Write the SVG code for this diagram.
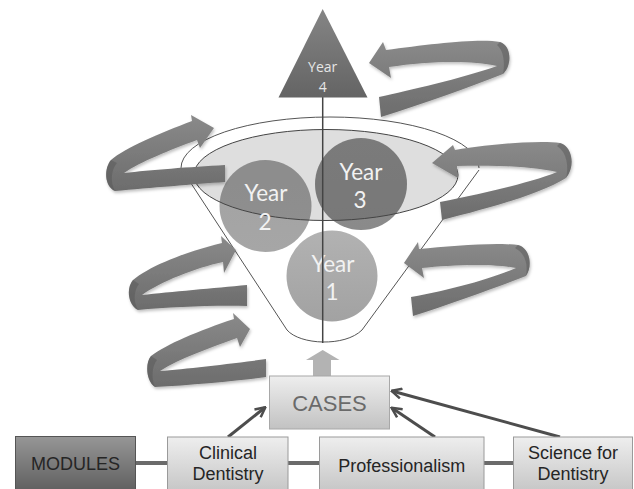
<svg xmlns="http://www.w3.org/2000/svg" width="634" height="489" viewBox="0 0 634 489">
<defs>
<style>
.rib{fill:url(#gRib);filter:url(#sh)}
.turn{fill:#555;opacity:0.45}
.ctext{font-family:Lato,"Open Sans",sans-serif;font-size:22.5px;fill:#f2f2f2;text-anchor:middle}
.btext{font-family:"Liberation Sans",Arial,sans-serif;font-size:18px;fill:#252525;text-anchor:middle}
.box{fill:url(#gBox);stroke:#9a9a9a;stroke-width:1}
.fun{fill:none;stroke:#555;stroke-width:1}
.link{stroke:#6b6b6b;stroke-width:4}
.arr{stroke:#4d4d4d;stroke-width:3;fill:none;marker-end:url(#mk)}
</style>
<linearGradient id="gRib" x1="0" y1="0" x2="0" y2="1">
<stop offset="0" stop-color="#8a8a8a"/><stop offset="1" stop-color="#6c6c6c"/>
</linearGradient>
<linearGradient id="gBox" x1="0" y1="0" x2="0" y2="1">
<stop offset="0" stop-color="#eeeeee"/><stop offset="1" stop-color="#c2c2c2"/>
</linearGradient>
<linearGradient id="gMod" x1="0" y1="0" x2="0" y2="1">
<stop offset="0" stop-color="#969696"/><stop offset="1" stop-color="#5a5a5a"/>
</linearGradient>
<linearGradient id="gTri" x1="0" y1="0" x2="0" y2="1">
<stop offset="0" stop-color="#858585"/><stop offset="1" stop-color="#646464"/>
</linearGradient>
<linearGradient id="gY1" x1="0" y1="0" x2="0" y2="1">
<stop offset="0" stop-color="#b2b2b2"/><stop offset="1" stop-color="#a2a2a2"/>
</linearGradient>
<linearGradient id="gY2" x1="0" y1="0" x2="0" y2="1">
<stop offset="0" stop-color="#a2a2a2"/><stop offset="1" stop-color="#a6a6a6"/>
</linearGradient>
<linearGradient id="gY3" x1="0" y1="0" x2="0" y2="1">
<stop offset="0" stop-color="#8e8e8e"/><stop offset="1" stop-color="#8a8a8a"/>
</linearGradient>
<filter id="sh" x="-10%" y="-10%" width="130%" height="130%">
<feDropShadow dx="1" dy="2" stdDeviation="1.5" flood-color="#000" flood-opacity="0.25"/>
</filter>
<marker id="mk" viewBox="0 0 12 12" refX="10.5" refY="6" markerWidth="12" markerHeight="12" markerUnits="userSpaceOnUse" orient="auto">
<path d="M1,1 L11,6 L1,11" fill="none" stroke="#4d4d4d" stroke-width="2.5"/>
</marker>
</defs>
<rect width="634" height="489" fill="#ffffff"/>

<g id="funnel">
<path class="fun" d="M181,168 A149,51 0 0 1 479,168"/>
<path class="fun" d="M181,168 L287,330 C300,345 345,347 362,330 L479,170"/>
</g>

<g id="year2">
<circle cx="265.5" cy="206" r="46" fill="url(#gY2)"/>
</g>
<g id="year3">
<circle cx="361" cy="184" r="46" fill="url(#gY3)"/>
</g>
<g id="year1">
<circle cx="332" cy="276" r="45.5" fill="url(#gY1)"/>
</g>
<g id="rim">
<ellipse cx="326" cy="175" rx="132" ry="45.5" fill="#000" fill-opacity="0.13" stroke="#444" stroke-width="1"/>
</g>
<g id="labels">
<text class="ctext" x="266" y="201">Year</text>
<text class="ctext" x="265" y="230">2</text>
<text class="ctext" x="361" y="180">Year</text>
<text class="ctext" x="360" y="208">3</text>
<text class="ctext" x="333" y="272">Year</text>
<text class="ctext" x="332" y="300">1</text>
</g>
<g id="axis">
<line x1="322.7" y1="97" x2="322.7" y2="343" stroke="#444" stroke-width="1.5"/>
</g>
<g id="year4">
<polygon points="322.7,9 278.5,97.5 367.5,97.5" fill="url(#gTri)"/>
<text x="322.7" y="71.5" font-family="'Open Sans','DejaVu Sans',sans-serif" font-size="14" fill="#e6e6e6" text-anchor="middle">Year</text>
<text x="322.7" y="91.5" font-family="'Open Sans','DejaVu Sans',sans-serif" font-size="14" fill="#e6e6e6" text-anchor="middle">4</text>
</g>

<g id="ribbons">
<g id="ribbonA">
<path class="rib" d="M379,97 C410,90 460,79 497,66 C470,60 430,61 389,67 L391,78 L369,63 L383,42 L386,50 C430,44 480,38 500,42 C512,46 512,66 503,74 C470,87 425,103 381,117 Z"/>
<path class="turn" d="M500,42 C512,46 512,66 503,74 C505,63 504,51 497,45 Z"/>
</g>
<g id="ribbonB">
<path class="rib" d="M225,165 C190,167 150,170 124,173 C140,162 170,150 197,140 L200,148 L214,128 L191,115 L192,121 C160,133 125,148 111,160 C104,168 104,186 115,191 C150,188 195,184 225,182 Z"/>
<path class="turn" d="M111,160 C104,168 104,186 115,191 C110,182 111,170 117,163 Z"/>
</g>
<g id="ribbonC">
<path class="rib" d="M440,202 C480,194 530,183 557,172 C530,166 490,165 457,166 L458,178 L432,163 L453,145 L455,150 C490,144 540,140 560,143 C572,146 576,166 566,178 C540,194 490,208 442,220 Z"/>
<path class="turn" d="M560,143 C572,146 576,166 566,178 C569,167 567,152 557,146 Z"/>
</g>
<g id="ribbonD">
<path class="rib" d="M247,285 C215,288 170,292 142,295 C160,282 195,268 223,262 L224,273 L236,250 L221,236 L222,243 C185,252 150,266 133,280 C126,288 128,305 138,310 C170,307 215,305 247,306 Z"/>
<path class="turn" d="M133,280 C126,288 128,305 138,310 C133,301 134,290 139,284 Z"/>
</g>
<g id="ribbonE">
<path class="rib" d="M411,297 C450,290 490,279 516,268 C490,263 450,265 422,268 L424,278 L404,263 L418,242 L419,249 C450,246 495,242 518,245 C530,248 533,266 526,276 C490,290 450,304 413,316 Z"/>
<path class="turn" d="M518,245 C530,248 533,266 526,276 C528,265 526,254 515,248 Z"/>
</g>
<g id="ribbonF">
<path class="rib" d="M266,359 C230,364 185,369 160,371 C180,358 210,348 237,338 L240,347 L250,329 L233,313 L234,319 C200,330 165,345 151,356 C145,363 146,381 155,387 C190,385 235,381 266,377 Z"/>
<path class="turn" d="M151,356 C145,363 146,381 155,387 C151,378 152,366 157,360 Z"/>
</g>
</g>

<g id="upArrow">
<polygon points="322.7,350 339.5,360 331,360 331,376 313,376 313,360 306,360" fill="#b3b3b3"/>
</g>

<g id="cases">
<rect x="269.5" y="376" width="120" height="53" fill="url(#gBox)" stroke="#a8a8a8"/>
<text x="329.5" y="410.5" font-family="'Liberation Sans',Arial,sans-serif" font-size="22" fill="#6a6a6a" text-anchor="middle">CASES</text>
</g>

<g id="connectors">
<line class="link" x1="136" y1="463" x2="167.5" y2="463"/>
<line class="link" x1="288" y1="463" x2="319.5" y2="463"/>
<line class="link" x1="484" y1="463" x2="513.5" y2="463"/>
<line class="arr" x1="228" y1="437" x2="265" y2="407.5"/>
<line class="arr" x1="435" y1="437" x2="392" y2="408"/>
<line class="arr" x1="560" y1="437" x2="392" y2="391"/>
</g>

<g id="modules">
<rect x="15.5" y="436.5" width="120" height="60" fill="url(#gMod)" stroke="#555"/>
<text class="btext" x="75.5" y="470" font-size="18.5">MODULES</text>
</g>
<g id="clinical">
<rect class="box" x="167.5" y="437" width="120.5" height="60"/>
<text class="btext" x="228" y="459">Clinical</text>
<text class="btext" x="228" y="480">Dentistry</text>
</g>
<g id="professionalism">
<rect class="box" x="319.5" y="437" width="164.5" height="60"/>
<text class="btext" x="401.7" y="471.5">Professionalism</text>
</g>
<g id="science">
<rect class="box" x="513.5" y="437" width="119" height="60"/>
<text class="btext" x="573" y="459">Science for</text>
<text class="btext" x="573" y="480">Dentistry</text>
</g>
</svg>
